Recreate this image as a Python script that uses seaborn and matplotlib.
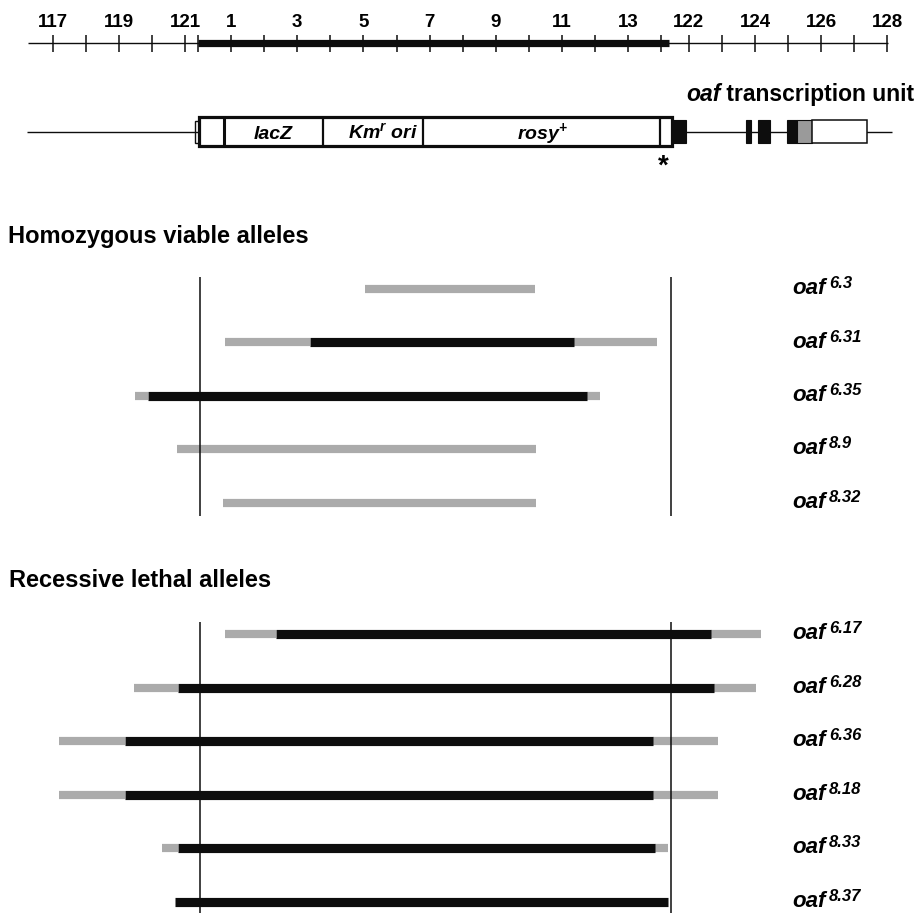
import numpy as np
import pandas as pd
import matplotlib
matplotlib.use("Agg")
import matplotlib.pyplot as plt
from matplotlib.patches import Rectangle
import seaborn as sns

# ---------------- data (map units: one ruler tick = 1 unit) ----------------
left_ticks = [117, 118, 119, 120, 121]
insert_ticks = list(range(0, 15))
right_ticks = [122, 123, 124, 125, 126, 127, 128]
left_labels = [117, 119, 121]
insert_labels = [1, 3, 5, 7, 9, 11, 13]
right_labels = [122, 124, 126, 128]

viable_names = ["6.3", "6.31", "6.35", "8.9", "8.32"]
viable_grey_left = [(9.43, 14.56), (5.20, 7.76), (2.48, 2.87), (3.75, 14.59), (5.14, 14.59)]
viable_black = [None, (7.76, 15.74), (2.87, 16.13), None, None]
viable_grey_right = [None, (15.74, 18.25), (16.13, 16.53), None, None]

lethal_names = ["6.17", "6.28", "6.36", "8.18", "8.33", "8.37"]
lethal_grey_left = [(5.20, 6.74), (2.45, 3.78), (0.18, 2.18), (0.18, 2.18), (3.29, 3.78), None]
lethal_black = [(6.74, 19.88), (3.78, 19.97), (2.18, 18.13), (2.18, 18.13), (3.78, 18.19), (3.69, 18.58)]
lethal_grey_right = [(19.88, 21.39), (19.97, 21.24), (18.13, 20.09), (18.13, 20.09), (18.19, 18.58), None]

# insertion construct / transcription unit features (map units)
insert_span = (4.38, 18.61)
construct_box = (4.40, 18.71)
construct_dividers = [5.17, 8.16, 11.18, 18.34]
exons_black = [(18.74, 19.12), (20.94, 21.09), (21.30, 21.66), (22.18, 22.48)]
exon_grey = (22.48, 22.93)
exon_white = (22.93, 24.59)

# ---------------- style ----------------
sns.set_theme(style="white")
plt.rcParams["font.family"] = ["Liberation Sans", "DejaVu Sans"]
plt.rcParams["text.color"] = "black"
plt.rcParams["lines.solid_capstyle"] = "butt"
plt.rcParams["mathtext.fontset"] = "custom"
plt.rcParams["mathtext.rm"] = "Liberation Sans:bold:italic"
plt.rcParams["mathtext.it"] = "Liberation Sans:bold:italic"
plt.rcParams["mathtext.bf"] = "Liberation Sans:bold:italic"

GREY = "#ababab"
BLACK = "#0d0d0d"
PX0, PXU = 53.0, 33.1  # pixel of map 0 and pixels per unit


def u(px):
    return (px - PX0) / PXU


fig = plt.figure(figsize=(9.21, 9.13), dpi=100)
ax = fig.add_axes([0, 0, 1, 1])
ax.set_xlim(u(0), u(921))
ax.set_ylim(913, 0)

# ---------------- deletion segments via seaborn ----------------
rows = []
label_rows = []
seg = 0
def add_rows(names, gl, bk, gr, y0, step):
    global seg
    for i, nm in enumerate(names):
        y = y0 + i * step
        label_rows.append((nm, y))
        for kind, s in (("grey", gl[i]), ("black", bk[i]), ("grey", gr[i])):
            if s is None:
                continue
            rows.append(dict(seg=seg, x=s[0], y=y, kind=kind))
            rows.append(dict(seg=seg, x=s[1], y=y, kind=kind))
            seg += 1

add_rows(viable_names, viable_grey_left, viable_black, viable_grey_right, 289, 53.5)
add_rows(lethal_names, lethal_grey_left, lethal_black, lethal_grey_right, 634, 53.6)
df = pd.DataFrame(rows)

sns.lineplot(data=df, x="x", y="y", units="seg", estimator=None, sort=False,
             hue="kind", palette={"grey": GREY, "black": BLACK},
             size="kind", sizes={"grey": 5.9, "black": 6.6},
             legend=False, ax=ax)
ax.set_xlim(u(0), u(921))
ax.set_ylim(913, 0)

# vertical boundary lines
for x in (4.44, 18.66):
    ax.plot([x, x], [277, 516], color=BLACK, lw=1.1, zorder=5)
    ax.plot([x, x], [622, 913], color=BLACK, lw=1.1, zorder=5)

# allele labels (main text, superscript placed after measuring)
main_texts = []
for nm, y in label_rows:
    t = ax.text(u(792), y + 5, "oaf", fontsize=16, fontweight="bold", style="italic",
                ha="left", va="baseline")
    main_texts.append((t, nm, y))

# section headings
ax.text(u(8), 243, "Homozygous viable alleles", fontsize=17, fontweight="bold",
        ha="left", va="baseline")
ax.text(u(9), 587, "Recessive lethal alleles", fontsize=17, fontweight="bold",
        ha="left", va="baseline")

# ---------------- ruler ----------------
ax.plot([u(28), u(888)], [43, 43], color=BLACK, lw=1.0)
ax.plot(list(insert_span), [43, 43], color=BLACK, lw=5.2)
tick_pos = ([t - 117 for t in left_ticks] + [insert_span[0] + k for k in insert_ticks]
            + [19.21 + (t - 122) for t in right_ticks])
for x in tick_pos:
    ax.plot([x, x], [35, 52], color=BLACK, lw=1.1)
lab_pos = ([t - 117 for t in left_labels] + [insert_span[0] + k for k in insert_labels]
           + [19.21 + (t - 122) for t in right_labels])
lab_txt = [str(v) for v in left_labels + insert_labels + right_labels]
for x, t in zip(lab_pos, lab_txt):
    ax.text(x, 27, t, fontsize=13.5, fontweight="bold", ha="center", va="baseline")

# ---------------- construct diagram ----------------
ax.plot([u(27), construct_box[0]], [132.5, 132.5], color=BLACK, lw=1.0)
ax.add_patch(Rectangle((4.29, 121), 0.11, 22, fc="white", ec=BLACK, lw=1.0))
ax.add_patch(Rectangle((construct_box[0], 117.5), construct_box[1] - construct_box[0], 29,
                       fc="white", ec=BLACK, lw=2.3, zorder=3))
for i, x in enumerate(construct_dividers):
    ax.plot([x, x], [117.5, 146.5], color=BLACK, lw=2.2 if i == 0 else 1.6, zorder=3)
ax.plot([exons_black[0][1], u(892)], [132.5, 132.5], color=BLACK, lw=1.0)
for a, b in exons_black:
    ax.add_patch(Rectangle((a, 120.5), b - a, 22.5, fc=BLACK, ec=BLACK, lw=0.8, zorder=3))
ax.add_patch(Rectangle((exon_grey[0], 120.5), exon_grey[1] - exon_grey[0], 22.5,
                       fc="#9a9a9a", ec=BLACK, lw=0.8, zorder=3))
ax.add_patch(Rectangle((exon_white[0], 120.5), exon_white[1] - exon_white[0], 22.5,
                       fc="white", ec=BLACK, lw=1.1, zorder=3))

ax.text(6.65, 139, "lacZ", fontsize=14, fontweight="bold", style="italic",
        ha="center", va="baseline", zorder=4)
ax.text(9.97, 139, "Km$^{r}$ ori", fontsize=14, fontweight="bold", style="italic",
        ha="center", va="baseline", zorder=4)
ax.text(14.80, 139, "rosy$^{+}$", fontsize=14, fontweight="bold", style="italic",
        ha="center", va="baseline", zorder=4)
ax.text(18.43, 174, "*", fontsize=20, fontweight="bold", ha="center", va="baseline")

t1 = ax.text(u(686), 101, "oaf", fontsize=16.5, fontweight="bold", style="italic",
             ha="left", va="baseline")
ax.annotate(" transcription unit", xy=(1, 0), xycoords=t1, fontsize=16.5,
            fontweight="bold", ha="left", va="bottom")

ax.axis("off")

# superscripts after measuring the main label widths
fig.canvas.draw()
inv = ax.transData.inverted()
for t, nm, y in main_texts:
    bb = t.get_window_extent()
    x1 = inv.transform((bb.x1, bb.y0))[0]
    ax.text(x1 + 3.5 / PXU, y - 1, nm, fontsize=12, fontweight="bold", style="italic",
            ha="left", va="baseline")

fig.savefig("out.png", dpi=100)
